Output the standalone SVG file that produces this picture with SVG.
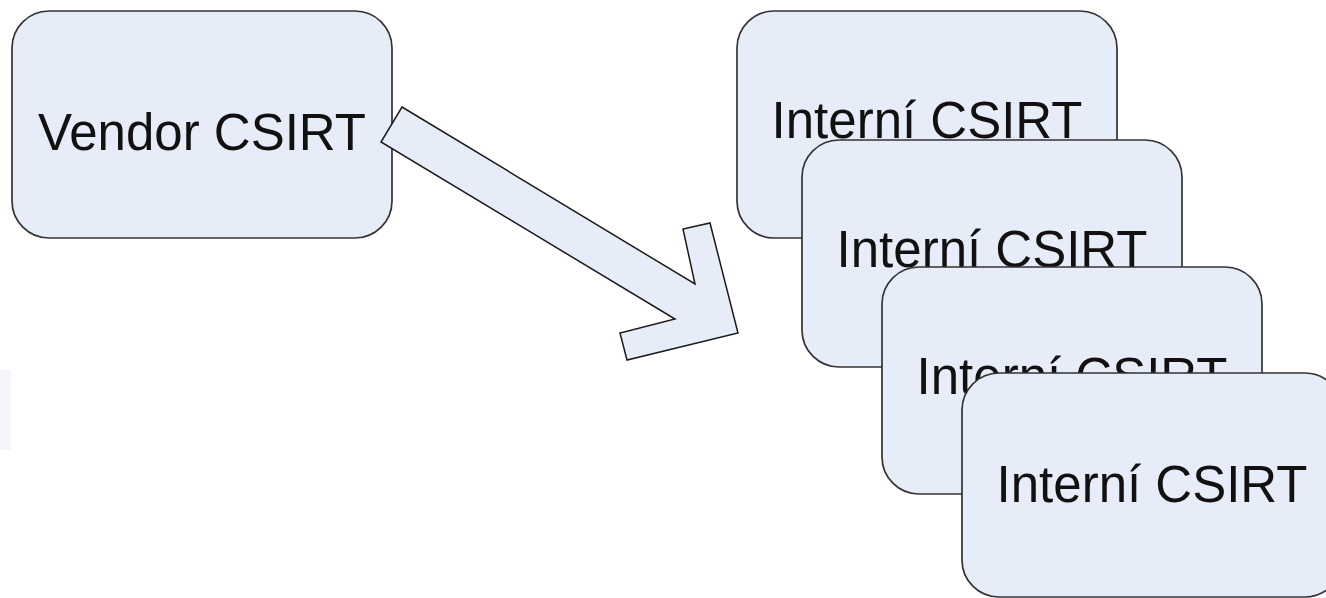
<svg xmlns="http://www.w3.org/2000/svg" width="1326" height="598" viewBox="0 0 1326 598">
<style>
.box{fill:#e7edf8;stroke:#333;stroke-width:1.7}
.lbl{font-family:"Liberation Sans",Arial,sans-serif;font-size:51px;fill:#111;text-anchor:middle}
.arrow{fill:#e7edf8;stroke:#1a1a1a;stroke-width:1.5;stroke-linejoin:miter}
</style>
<rect x="0" y="370" width="11" height="80" fill="#f3f5f8"/>
<g id="vendor">
<rect class="box" x="12" y="11" width="380" height="227" rx="37" ry="37"/>
<text class="lbl" x="202" y="150">Vendor CSIRT</text>
</g>
<g id="connectors">
<polygon class="arrow" points="402,107 695,284 683,229 710,223 738,333 627,360 620,333 675,319 381,142"/>
</g>
<g id="interni1">
<rect class="box" x="737" y="11" width="380" height="227" rx="37" ry="37"/>
<text class="lbl" x="927" y="138">Interní CSIRT</text>
</g>
<g id="interni2">
<rect class="box" x="802" y="140" width="380" height="227" rx="37" ry="37"/>
<text class="lbl" x="992" y="267">Interní CSIRT</text>
</g>
<g id="interni3">
<rect class="box" x="882" y="267" width="380" height="227" rx="37" ry="37"/>
<text class="lbl" x="1072" y="394">Interní CSIRT</text>
</g>
<g id="interni4">
<rect class="box" x="962" y="373" width="380" height="224" rx="37" ry="37"/>
<text class="lbl" x="1152" y="502">Interní CSIRT</text>
</g>
</svg>
